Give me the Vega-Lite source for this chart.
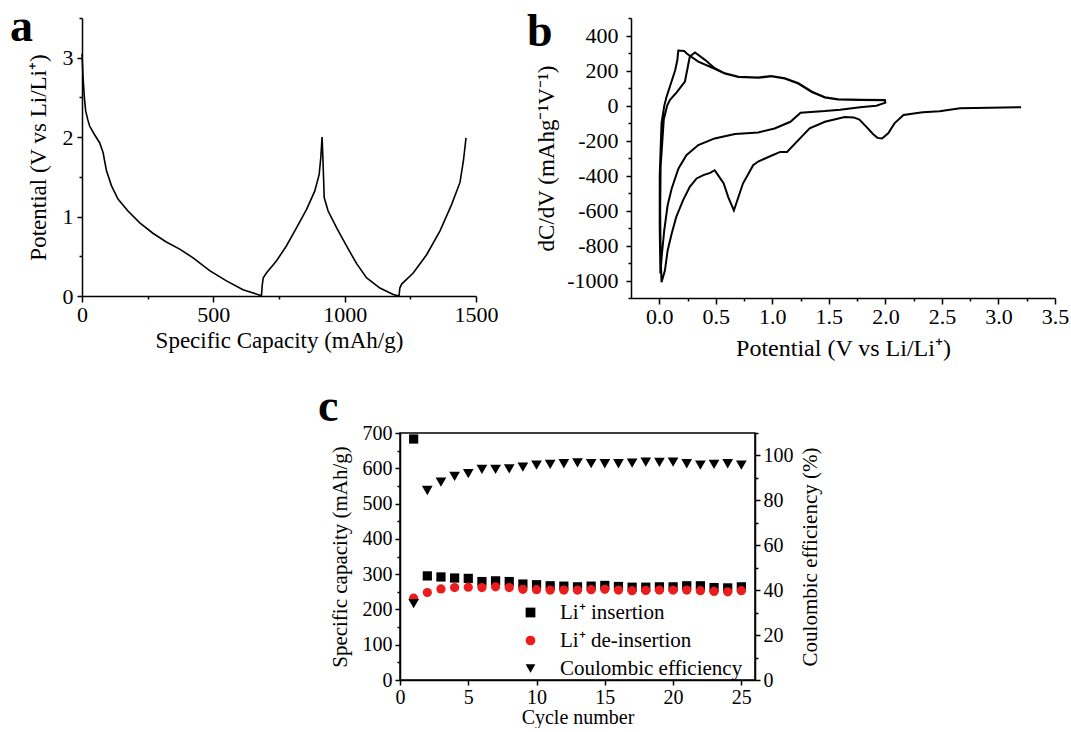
{
"$schema": "https://vega.github.io/schema/vega-lite/v6.json",
"padding": {"left": 10, "top": 4, "right": 0, "bottom": 0},
"background": "white",
"config": {
 "font": "Liberation Serif",
 "view": {"stroke": null},
 "axis": {"grid": false, "domainColor": "#000", "tickColor": "#000", "labelColor": "#000", "titleColor": "#000", "domainWidth": 1.5, "tickWidth": 1.5, "labelFont": "Liberation Serif", "titleFont": "Liberation Serif", "titleFontWeight": "normal", "labelFlush": false, "labelOverlap": false, "labelBound": false}
},
"datasets": {
 "a": [
  {"i":1,"capacity":0,"potential":3.05},{"i":2,"capacity":4,"potential":2.75},{"i":3,"capacity":9,"potential":2.5},{"i":4,"capacity":14,"potential":2.33},{"i":5,"capacity":22,"potential":2.22},{"i":6,"capacity":29,"potential":2.14},{"i":7,"capacity":48,"potential":2.03},{"i":8,"capacity":67,"potential":1.93},{"i":9,"capacity":80,"potential":1.81},{"i":10,"capacity":93,"potential":1.58},{"i":11,"capacity":112,"potential":1.39},{"i":12,"capacity":137,"potential":1.22},{"i":13,"capacity":175,"potential":1.07},{"i":14,"capacity":220,"potential":0.92},{"i":15,"capacity":270,"potential":0.79},{"i":16,"capacity":321,"potential":0.68},{"i":17,"capacity":372,"potential":0.59},{"i":18,"capacity":423,"potential":0.48},{"i":19,"capacity":486,"potential":0.32},{"i":20,"capacity":550,"potential":0.19},{"i":21,"capacity":613,"potential":0.08},{"i":22,"capacity":677,"potential":0.01},{"i":23,"capacity":683,"potential":0.0},{"i":24,"capacity":686,"potential":0.13},{"i":25,"capacity":690,"potential":0.23},{"i":26,"capacity":702,"potential":0.29},{"i":27,"capacity":740,"potential":0.44},{"i":28,"capacity":778,"potential":0.63},{"i":29,"capacity":817,"potential":0.86},{"i":30,"capacity":855,"potential":1.09},{"i":31,"capacity":886,"potential":1.32},{"i":32,"capacity":903,"potential":1.53},{"i":33,"capacity":909,"potential":1.74},{"i":34,"capacity":914,"potential":2.0},{"i":35,"capacity":917,"potential":1.75},{"i":36,"capacity":920,"potential":1.45},{"i":37,"capacity":922,"potential":1.24},{"i":38,"capacity":937,"potential":1.07},{"i":39,"capacity":969,"potential":0.86},{"i":40,"capacity":1007,"potential":0.63},{"i":41,"capacity":1045,"potential":0.41},{"i":42,"capacity":1083,"potential":0.23},{"i":43,"capacity":1134,"potential":0.1},{"i":44,"capacity":1185,"potential":0.02},{"i":45,"capacity":1207,"potential":0.0},{"i":46,"capacity":1210,"potential":0.1},{"i":47,"capacity":1217,"potential":0.15},{"i":48,"capacity":1261,"potential":0.29},{"i":49,"capacity":1312,"potential":0.52},{"i":50,"capacity":1363,"potential":0.82},{"i":51,"capacity":1407,"potential":1.15},{"i":52,"capacity":1439,"potential":1.43},{"i":53,"capacity":1452,"potential":1.7},{"i":54,"capacity":1462,"potential":1.99}
 ],
 "b": [
  {"i":1,"potential":3.2,"dcdv":-10},{"i":2,"potential":2.92,"dcdv":-13},{"i":3,"potential":2.66,"dcdv":-16},{"i":4,"potential":2.48,"dcdv":-33},{"i":5,"potential":2.33,"dcdv":-39},{"i":6,"potential":2.16,"dcdv":-54},{"i":7,"potential":2.08,"dcdv":-102},{"i":8,"potential":2.025,"dcdv":-159},{"i":9,"potential":1.97,"dcdv":-188},{"i":10,"potential":1.93,"dcdv":-185},{"i":11,"potential":1.89,"dcdv":-163},{"i":12,"potential":1.83,"dcdv":-121},{"i":13,"potential":1.77,"dcdv":-80},{"i":14,"potential":1.72,"dcdv":-68},{"i":15,"potential":1.64,"dcdv":-66},{"i":16,"potential":1.465,"dcdv":-93},{"i":17,"potential":1.33,"dcdv":-131},{"i":18,"potential":1.23,"dcdv":-198},{"i":19,"potential":1.13,"dcdv":-265},{"i":20,"potential":1.07,"dcdv":-265},{"i":21,"potential":0.99,"dcdv":-287},{"i":22,"potential":0.875,"dcdv":-320},{"i":23,"potential":0.83,"dcdv":-341},{"i":24,"potential":0.79,"dcdv":-389},{"i":25,"potential":0.74,"dcdv":-446},{"i":26,"potential":0.7,"dcdv":-523},{"i":27,"potential":0.66,"dcdv":-600},{"i":28,"potential":0.61,"dcdv":-523},{"i":29,"potential":0.57,"dcdv":-446},{"i":30,"potential":0.52,"dcdv":-398},{"i":31,"potential":0.49,"dcdv":-370},{"i":32,"potential":0.45,"dcdv":-385},{"i":33,"potential":0.39,"dcdv":-398},{"i":34,"potential":0.33,"dcdv":-417},{"i":35,"potential":0.27,"dcdv":-465},{"i":36,"potential":0.21,"dcdv":-542},{"i":37,"potential":0.15,"dcdv":-637},{"i":38,"potential":0.11,"dcdv":-732},{"i":39,"potential":0.074,"dcdv":-828},{"i":40,"potential":0.05,"dcdv":-943},{"i":41,"potential":0.02,"dcdv":-1010},{"i":42,"potential":0.012,"dcdv":-850},{"i":43,"potential":0.008,"dcdv":-600},{"i":44,"potential":0.012,"dcdv":-350},{"i":45,"potential":0.04,"dcdv":-80},{"i":46,"potential":0.07,"dcdv":0},{"i":47,"potential":0.095,"dcdv":32},{"i":48,"potential":0.154,"dcdv":75},{"i":49,"potential":0.227,"dcdv":137},{"i":50,"potential":0.25,"dcdv":213},{"i":51,"potential":0.27,"dcdv":280},{"i":52,"potential":0.316,"dcdv":303},{"i":53,"potential":0.404,"dcdv":261},{"i":54,"potential":0.49,"dcdv":213},{"i":55,"potential":0.58,"dcdv":184},{"i":56,"potential":0.7,"dcdv":165},{"i":57,"potential":0.875,"dcdv":160},{"i":58,"potential":0.99,"dcdv":169},{"i":59,"potential":1.11,"dcdv":156},{"i":60,"potential":1.23,"dcdv":127},{"i":61,"potential":1.35,"dcdv":79},{"i":62,"potential":1.465,"dcdv":47},{"i":63,"potential":1.58,"dcdv":36},{"i":64,"potential":1.775,"dcdv":33},{"i":65,"potential":1.995,"dcdv":32},{"i":66,"potential":2.0,"dcdv":16},{"i":67,"potential":1.92,"dcdv":-1},{"i":68,"potential":1.775,"dcdv":-10},{"i":69,"potential":1.6,"dcdv":-24},{"i":70,"potential":1.465,"dcdv":-32},{"i":71,"potential":1.25,"dcdv":-41},{"i":72,"potential":1.16,"dcdv":-93},{"i":73,"potential":1.02,"dcdv":-131},{"i":74,"potential":0.875,"dcdv":-154},{"i":75,"potential":0.67,"dcdv":-163},{"i":76,"potential":0.49,"dcdv":-188},{"i":77,"potential":0.345,"dcdv":-226},{"i":78,"potential":0.24,"dcdv":-284},{"i":79,"potential":0.17,"dcdv":-360},{"i":80,"potential":0.11,"dcdv":-474},{"i":81,"potential":0.074,"dcdv":-570},{"i":82,"potential":0.044,"dcdv":-713},{"i":83,"potential":0.021,"dcdv":-866},{"i":84,"potential":0.01,"dcdv":-960},{"i":85,"potential":0.004,"dcdv":-700},{"i":86,"potential":0.004,"dcdv":-400},{"i":87,"potential":0.02,"dcdv":-100},{"i":88,"potential":0.045,"dcdv":0},{"i":89,"potential":0.065,"dcdv":51},{"i":90,"potential":0.1,"dcdv":120},{"i":91,"potential":0.14,"dcdv":200},{"i":92,"potential":0.16,"dcdv":260},{"i":93,"potential":0.168,"dcdv":314},{"i":94,"potential":0.22,"dcdv":312},{"i":95,"potential":0.245,"dcdv":296},{"i":96,"potential":0.345,"dcdv":251},{"i":97,"potential":0.49,"dcdv":210},{"i":98,"potential":0.58,"dcdv":182},{"i":99,"potential":0.7,"dcdv":163},{"i":100,"potential":0.875,"dcdv":158},{"i":101,"potential":0.99,"dcdv":167},{"i":102,"potential":1.11,"dcdv":154},{"i":103,"potential":1.23,"dcdv":125},{"i":104,"potential":1.35,"dcdv":77},{"i":105,"potential":1.465,"dcdv":45},{"i":106,"potential":1.58,"dcdv":34},{"i":107,"potential":1.775,"dcdv":31},{"i":108,"potential":1.99,"dcdv":30}
 ],
 "cap": [
  {"cycle":1,"series":"Li⁺ insertion","capacity":683},{"cycle":2,"series":"Li⁺ insertion","capacity":295},{"cycle":3,"series":"Li⁺ insertion","capacity":292},{"cycle":4,"series":"Li⁺ insertion","capacity":289},{"cycle":5,"series":"Li⁺ insertion","capacity":288},{"cycle":6,"series":"Li⁺ insertion","capacity":279},{"cycle":7,"series":"Li⁺ insertion","capacity":281},{"cycle":8,"series":"Li⁺ insertion","capacity":279},{"cycle":9,"series":"Li⁺ insertion","capacity":272},{"cycle":10,"series":"Li⁺ insertion","capacity":270},{"cycle":11,"series":"Li⁺ insertion","capacity":267},{"cycle":12,"series":"Li⁺ insertion","capacity":266},{"cycle":13,"series":"Li⁺ insertion","capacity":264},{"cycle":14,"series":"Li⁺ insertion","capacity":266},{"cycle":15,"series":"Li⁺ insertion","capacity":268},{"cycle":16,"series":"Li⁺ insertion","capacity":265},{"cycle":17,"series":"Li⁺ insertion","capacity":263},{"cycle":18,"series":"Li⁺ insertion","capacity":263},{"cycle":19,"series":"Li⁺ insertion","capacity":264},{"cycle":20,"series":"Li⁺ insertion","capacity":264},{"cycle":21,"series":"Li⁺ insertion","capacity":267},{"cycle":22,"series":"Li⁺ insertion","capacity":267},{"cycle":23,"series":"Li⁺ insertion","capacity":262},{"cycle":24,"series":"Li⁺ insertion","capacity":261},{"cycle":25,"series":"Li⁺ insertion","capacity":264},
  {"cycle":1,"series":"Li⁺ de-insertion","capacity":232},{"cycle":2,"series":"Li⁺ de-insertion","capacity":248},{"cycle":3,"series":"Li⁺ de-insertion","capacity":258},{"cycle":4,"series":"Li⁺ de-insertion","capacity":262},{"cycle":5,"series":"Li⁺ de-insertion","capacity":263},{"cycle":6,"series":"Li⁺ de-insertion","capacity":262},{"cycle":7,"series":"Li⁺ de-insertion","capacity":264},{"cycle":8,"series":"Li⁺ de-insertion","capacity":262},{"cycle":9,"series":"Li⁺ de-insertion","capacity":257},{"cycle":10,"series":"Li⁺ de-insertion","capacity":256},{"cycle":11,"series":"Li⁺ de-insertion","capacity":255},{"cycle":12,"series":"Li⁺ de-insertion","capacity":255},{"cycle":13,"series":"Li⁺ de-insertion","capacity":255},{"cycle":14,"series":"Li⁺ de-insertion","capacity":256},{"cycle":15,"series":"Li⁺ de-insertion","capacity":257},{"cycle":16,"series":"Li⁺ de-insertion","capacity":255},{"cycle":17,"series":"Li⁺ de-insertion","capacity":253},{"cycle":18,"series":"Li⁺ de-insertion","capacity":254},{"cycle":19,"series":"Li⁺ de-insertion","capacity":255},{"cycle":20,"series":"Li⁺ de-insertion","capacity":255},{"cycle":21,"series":"Li⁺ de-insertion","capacity":255},{"cycle":22,"series":"Li⁺ de-insertion","capacity":253},{"cycle":23,"series":"Li⁺ de-insertion","capacity":251},{"cycle":24,"series":"Li⁺ de-insertion","capacity":250},{"cycle":25,"series":"Li⁺ de-insertion","capacity":253}
 ],
 "ce": [
  {"cycle":1,"series":"Coulombic efficiency","efficiency":34},{"cycle":2,"series":"Coulombic efficiency","efficiency":84.4},{"cycle":3,"series":"Coulombic efficiency","efficiency":88.1},{"cycle":4,"series":"Coulombic efficiency","efficiency":90.7},{"cycle":5,"series":"Coulombic efficiency","efficiency":91.9},{"cycle":6,"series":"Coulombic efficiency","efficiency":93.8},{"cycle":7,"series":"Coulombic efficiency","efficiency":93.8},{"cycle":8,"series":"Coulombic efficiency","efficiency":94},{"cycle":9,"series":"Coulombic efficiency","efficiency":94.8},{"cycle":10,"series":"Coulombic efficiency","efficiency":95.7},{"cycle":11,"series":"Coulombic efficiency","efficiency":96},{"cycle":12,"series":"Coulombic efficiency","efficiency":96.3},{"cycle":13,"series":"Coulombic efficiency","efficiency":96.7},{"cycle":14,"series":"Coulombic efficiency","efficiency":96.4},{"cycle":15,"series":"Coulombic efficiency","efficiency":96.3},{"cycle":16,"series":"Coulombic efficiency","efficiency":96.3},{"cycle":17,"series":"Coulombic efficiency","efficiency":96.6},{"cycle":18,"series":"Coulombic efficiency","efficiency":97},{"cycle":19,"series":"Coulombic efficiency","efficiency":96.9},{"cycle":20,"series":"Coulombic efficiency","efficiency":97},{"cycle":21,"series":"Coulombic efficiency","efficiency":96.3},{"cycle":22,"series":"Coulombic efficiency","efficiency":95.7},{"cycle":23,"series":"Coulombic efficiency","efficiency":96},{"cycle":24,"series":"Coulombic efficiency","efficiency":96.3},{"cycle":25,"series":"Coulombic efficiency","efficiency":95.7}
 ]
},
"bounds": "flush",
"spacing": 415,
"resolve": {"scale": {"color": "independent", "shape": "independent"}, "legend": {"color": "independent", "shape": "independent"}},
"vconcat": [
 {"hconcat": [
  {
   "width": 394, "height": 278,
   "title": {"text": "a", "anchor": "start", "frame": "group", "orient": "top", "offset": 0, "baseline": "alphabetic", "dx": -72, "dy": 80, "fontSize": 46, "fontWeight": "bold", "font": "Liberation Serif", "color": "#000"},
   "data": {"name": "a"},
   "mark": {"type": "line", "color": "#000", "strokeWidth": 1.6},
   "encoding": {
    "x": {"field": "capacity", "type": "quantitative", "scale": {"domain": [0, 1500], "nice": false, "zero": false},
     "axis": {"title": "Specific Capacity (mAh/g)", "values": [0,250,500,750,1000,1250,1500], "format": "d", "labelExpr": "datum.value % 500 === 0 ? datum.label : ''", "tickSize": {"condition": {"test": "datum.value % 500 !== 0", "value": 3}, "value": 6}, "labelFontSize": 22, "titleFontSize": 23, "labelPadding": 2, "titlePadding": 4}},
    "y": {"field": "potential", "type": "quantitative", "scale": {"domain": [0, 3.5], "nice": false, "zero": false},
     "axis": {"title": "Potential (V vs Li/Li⁺)", "values": [0,0.5,1,1.5,2,2.5,3,3.5], "labelExpr": "datum.value % 1 === 0 ? '' + datum.value : ''", "tickSize": {"condition": {"test": "datum.value % 1 !== 0", "value": 3}, "value": 5}, "labelFontSize": 22, "titleFontSize": 23, "labelPadding": 4, "titlePadding": 12}},
    "order": {"field": "i", "type": "quantitative"}
   }
  },
  {
   "width": 424, "height": 280,
   "title": {"text": "b", "anchor": "start", "frame": "group", "orient": "top", "offset": 0, "baseline": "alphabetic", "dx": -104, "dy": 85, "fontSize": 46, "fontWeight": "bold", "font": "Liberation Serif", "color": "#000"},
   "data": {"name": "b"},
   "mark": {"type": "line", "color": "#000", "strokeWidth": 2},
   "encoding": {
    "x": {"field": "potential", "type": "quantitative", "scale": {"domain": [-0.25, 3.5], "nice": false, "zero": false},
     "axis": {"title": "Potential (V vs Li/Li⁺)", "values": [0,0.25,0.5,0.75,1,1.25,1.5,1.75,2,2.25,2.5,2.75,3,3.25,3.5], "format": ".1f", "labelExpr": "datum.value % 0.5 === 0 ? datum.label : ''", "tickSize": {"condition": {"test": "datum.value % 0.5 !== 0", "value": 3}, "value": 6}, "labelFontSize": 22, "titleFontSize": 24, "labelPadding": 2, "titlePadding": 9}},
    "y": {"field": "dcdv", "type": "quantitative", "scale": {"domain": [-1100, 500], "nice": false, "zero": false},
     "axis": {"title": "dC/dV (mAhg⁻¹V⁻¹)", "values": [-1100,-1000,-900,-800,-700,-600,-500,-400,-300,-200,-100,0,100,200,300,400,500], "labelExpr": "datum.value % 200 === 0 ? '' + datum.value : ''", "tickSize": {"condition": {"test": "datum.value % 200 !== 0", "value": 3}, "value": 5}, "labelFontSize": 22, "titleFontSize": 23, "labelPadding": 8, "titlePadding": 8}},
    "order": {"field": "i", "type": "quantitative"}
   }
  }
 ], "bounds": "flush", "spacing": 155},
 {"hconcat": [
  {"width": 163, "height": 247, "data": {"values": []}, "mark": {"type": "point", "opacity": 0}, "encoding": {}},
  {
   "width": 355, "height": 247,
   "view": {"stroke": "#000", "strokeWidth": 1.5},
   "title": {"text": "c", "anchor": "start", "frame": "group", "orient": "top", "offset": 0, "baseline": "alphabetic", "dx": -82, "dy": 44, "fontSize": 46, "fontWeight": "bold", "font": "Liberation Serif", "color": "#000"},
   "resolve": {"scale": {"y": "independent"}},
   "layer": [
    {
     "data": {"name": "cap"},
     "mark": {"type": "point", "filled": true, "size": 85, "opacity": 1},
     "encoding": {
      "x": {"field": "cycle", "type": "quantitative", "scale": {"domain": [0, 26], "nice": false, "zero": false},
       "axis": {"title": "Cycle number", "values": [0,2.5,5,7.5,10,12.5,15,17.5,20,22.5,25], "labelExpr": "datum.value % 5 === 0 ? '' + datum.value : ''", "tickSize": {"condition": {"test": "datum.value % 5 !== 0", "value": 3}, "value": 5}, "labelFontSize": 20, "titleFontSize": 20, "labelPadding": 2, "titlePadding": 0}},
      "y": {"field": "capacity", "type": "quantitative", "scale": {"domain": [0, 700], "nice": false, "zero": false},
       "axis": {"title": "Specific capacity (mAh/g)", "orient": "left", "values": [0,50,100,150,200,250,300,350,400,450,500,550,600,650,700], "labelExpr": "datum.value % 100 === 0 ? '' + datum.value : ''", "tickSize": {"condition": {"test": "datum.value % 100 !== 0", "value": 3}, "value": 5}, "labelFontSize": 20, "titleFontSize": 21, "labelPadding": 3, "titlePadding": 12}},
      "color": {"field": "series", "type": "nominal", "scale": {"domain": ["Li⁺ insertion", "Li⁺ de-insertion", "Coulombic efficiency"], "range": ["#000000", "#ec1c1c", "#000000"]},
       "legend": {"orient": "none", "legendX": 120, "legendY": 169, "title": null, "labelFontSize": 21, "labelFont": "Liberation Serif", "labelColor": "#000", "labelLimit": 400, "symbolSize": 95, "rowPadding": 6, "labelOffset": 19, "symbolStrokeWidth": 0, "padding": 0}},
      "shape": {"field": "series", "type": "nominal", "scale": {"domain": ["Li⁺ insertion", "Li⁺ de-insertion", "Coulombic efficiency"], "range": ["square", "circle", "triangle-down"]},
       "legend": {"orient": "none", "legendX": 120, "legendY": 169, "title": null, "labelFontSize": 21, "labelFont": "Liberation Serif", "labelColor": "#000", "labelLimit": 400, "symbolSize": 95, "rowPadding": 6, "labelOffset": 19, "symbolStrokeWidth": 0, "padding": 0}}
     }
    },
    {
     "data": {"name": "ce"},
     "mark": {"type": "point", "filled": true, "size": 115, "opacity": 1},
     "encoding": {
      "x": {"field": "cycle", "type": "quantitative", "scale": {"domain": [0, 26], "nice": false, "zero": false}},
      "y": {"field": "efficiency", "type": "quantitative", "scale": {"domain": [0, 110], "nice": false, "zero": false},
       "axis": {"title": "Coulombic efficiency (%)", "orient": "right", "titleAngle": 270, "titleBaseline": "top", "values": [0,10,20,30,40,50,60,70,80,90,100,110], "labelExpr": "datum.value % 20 === 0 ? '' + datum.value : ''", "tickSize": {"condition": {"test": "datum.value % 20 !== 0", "value": 3}, "value": 5}, "labelFontSize": 20, "titleFontSize": 21, "labelPadding": 3, "titlePadding": 6}},
      "color": {"field": "series", "type": "nominal", "scale": {"domain": ["Li⁺ insertion", "Li⁺ de-insertion", "Coulombic efficiency"], "range": ["#000000", "#ec1c1c", "#000000"]},
       "legend": {"orient": "none", "legendX": 120, "legendY": 169, "title": null, "labelFontSize": 21, "labelFont": "Liberation Serif", "labelColor": "#000", "labelLimit": 400, "symbolSize": 95, "rowPadding": 6, "labelOffset": 19, "symbolStrokeWidth": 0, "padding": 0}},
      "shape": {"field": "series", "type": "nominal", "scale": {"domain": ["Li⁺ insertion", "Li⁺ de-insertion", "Coulombic efficiency"], "range": ["square", "circle", "triangle-down"]},
       "legend": {"orient": "none", "legendX": 120, "legendY": 169, "title": null, "labelFontSize": 21, "labelFont": "Liberation Serif", "labelColor": "#000", "labelLimit": 400, "symbolSize": 95, "rowPadding": 6, "labelOffset": 19, "symbolStrokeWidth": 0, "padding": 0}}
     }
    }
   ]
  }
 ], "bounds": "flush", "spacing": 155, "resolve": {"scale": {"color": "independent", "shape": "independent"}, "legend": {"color": "independent", "shape": "independent"}}}
]
}
